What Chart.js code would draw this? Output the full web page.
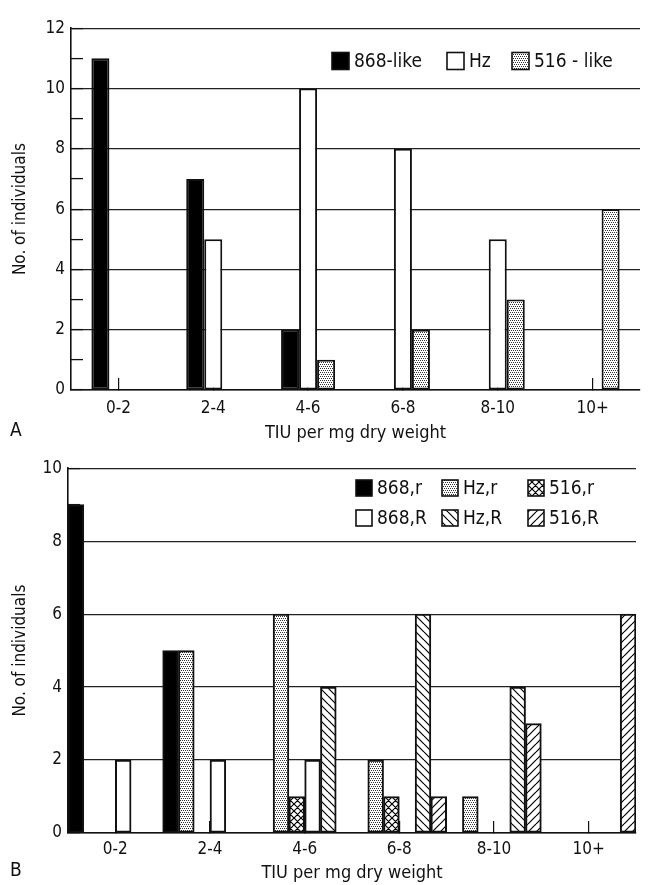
<!DOCTYPE html>
<html lang="en">
<head>
<meta charset="UTF-8" />
<title>TIU per mg dry weight</title>
<script src="https://cdn.jsdelivr.net/npm/chart.js"></script>
<style>
  body { margin: 0; width: 648px; height: 885px; position: relative; background: #fff; overflow: hidden;
         font-family: "DejaVu Sans Condensed", "DejaVu Sans", sans-serif; color: #111; }
  .panel { position: absolute; left: 0; width: 648px; height: 445px; }
  .tag { position: absolute; left: 10px; font-size: 19px; }
</style>
</head>
<body>
<div class="panel" style="top:0"><canvas id="chartA" width="648" height="445"></canvas></div>
<div class="panel" style="top:440px"><canvas id="chartB" width="648" height="445"></canvas></div>
<div class="tag" style="top:418px">A</div>
<div class="tag" style="top:858px">B</div>

<script>
// categories shared by both panels
const categories = ["0-2", "2-4", "4-6", "6-8", "8-10", "10+"];

// panel A
const like868 = [11, 7, 2, 0, 0, 0];
const hzA = [0, 5, 10, 8, 5, 0];
const like516 = [0, 0, 1, 2, 3, 6];
const yTicksA = [0, 2, 4, 6, 8, 10, 12];

// panel B
const r868 = [9, 5, 0, 0, 0, 0];
const rHz = [0, 5, 6, 2, 1, 0];
const r516 = [0, 0, 1, 1, 0, 0];
const R868 = [2, 2, 2, 0, 0, 0];
const RHz = [0, 0, 4, 6, 4, 0];
const R516 = [0, 0, 0, 1, 3, 6];
const yTicksB = [0, 2, 4, 6, 8, 10];

Chart.defaults.font.family = '"DejaVu Sans Condensed", "DejaVu Sans", sans-serif';
Chart.defaults.color = "#111";

const ink = "#111";

// fill patterns
function tile(size, draw) {
  const c = document.createElement("canvas");
  c.width = c.height = size;
  const g = c.getContext("2d");
  g.fillStyle = "#fff";
  g.fillRect(0, 0, size, size);
  draw(g, size);
  return g.createPattern(c, "repeat");
}
const dots = tile(4, (g) => {
  g.fillStyle = "#333";
  [[0, 0], [2, 0], [1, 2], [3, 2]].forEach(([x, y]) => g.fillRect(x, y, 1, 1));
});
function back(g, s) { // "\\\" lines
  for (let k = -1; k <= 1; k++) { g.moveTo(0, k * s); g.lineTo(s, s + k * s); }
}
function fwd(g, s) { // "///" lines
  for (let k = 0; k <= 2; k++) { g.moveTo(0, k * s); g.lineTo(s, k * s - s); }
}
function hatch(size, fns) {
  return tile(size, (g, s) => {
    g.strokeStyle = "#000";
    g.lineWidth = 1.2;
    g.beginPath();
    fns.forEach((f) => f(g, s));
    g.stroke();
  });
}
const backHatch = hatch(8, [back]);
const fwdHatch = hatch(8, [fwd]);
const crossHatch = hatch(7, [back, fwd]);

// legend drawn inside the plot
const boxLegend = {
  id: "boxLegend",
  afterDraw(chart, args, o) {
    const ctx = chart.ctx;
    ctx.save();
    ctx.font = o.font;
    ctx.textBaseline = "middle";
    chart.data.datasets.forEach((ds, i) => {
      const x = o.cols[i % o.cols.length];
      const y = o.rows[Math.floor(i / o.cols.length)];
      ctx.fillStyle = ds.backgroundColor;
      ctx.fillRect(x, y - o.box / 2, o.box, o.box);
      ctx.lineWidth = 1.6;
      ctx.strokeStyle = ink;
      ctx.strokeRect(x, y - o.box / 2, o.box, o.box);
      ctx.fillStyle = ink;
      ctx.fillText(ds.label, x + o.box + 5, y + 1);
    });
    ctx.restore();
  },
};

function yScale(max, labels, width) {
  return {
    min: 0,
    max: max,
    ticks: {
      stepSize: 1,
      autoSkip: false,
      padding: 18,
      font: { size: 17 },
      callback: (v) => (labels.includes(v) ? String(v) : ""),
    },
    grid: {
      color: (c) => (c.tick && c.tick.value % 2 === 0 ? "#222" : "rgba(0,0,0,0)"),
      lineWidth: 1.2,
      tickLength: -12,
      tickColor: ink,
      tickWidth: 1.3,
    },
    border: { color: ink, width: 1.6 },
    title: { display: true, text: "No. of individuals", font: { size: 17 }, padding: { top: 10, bottom: 0 } },
    afterFit: (s) => { s.width = width; },
  };
}

function xScale(pad, height) {
  return {
    ticks: { padding: pad, font: { size: 17 }, maxRotation: 0, autoSkip: false },
    grid: { offset: false, drawOnChartArea: false, tickLength: -12, tickColor: ink, lineWidth: 1.2 },
    border: { color: ink, width: 1.6 },
    title: { display: true, text: "TIU per mg dry weight", font: { size: 18 }, padding: { top: 0, bottom: 1 } },
    afterFit: (s) => { s.height = height; },
  };
}

function bar(label, data, fill) {
  return { label, data, backgroundColor: fill, borderColor: ink, borderWidth: 2, borderSkipped: false };
}

new Chart(document.getElementById("chartA"), {
  type: "bar",
  data: {
    labels: categories,
    datasets: [
      bar("868-like", like868, "#000"),
      bar("Hz", hzA, "#fff"),
      bar("516 - like", like516, dots),
    ],
  },
  options: {
    responsive: false,
    animation: false,
    datasets: { bar: { categoryPercentage: 0.57, barPercentage: 1 } },
    layout: { padding: { top: 21, right: 8, bottom: 0, left: 0 } },
    scales: { x: xScale(20, 55), y: yScale(12, yTicksA, 71) },
    plugins: {
      legend: { display: false },
      tooltip: { enabled: false },
      boxLegend: { cols: [332, 447, 512], rows: [61], box: 17, font: '19px "DejaVu Sans Condensed", "DejaVu Sans", sans-serif' },
    },
  },
  plugins: [boxLegend],
});

new Chart(document.getElementById("chartB"), {
  type: "bar",
  data: {
    labels: categories,
    datasets: [
      bar("868,r", r868, "#000"),
      bar("Hz,r", rHz, dots),
      bar("516,r", r516, crossHatch),
      bar("868,R", R868, "#fff"),
      bar("Hz,R", RHz, backHatch),
      bar("516,R", R516, fwdHatch),
    ],
  },
  options: {
    responsive: false,
    animation: false,
    datasets: { bar: { categoryPercentage: 1, barPercentage: 1 } },
    layout: { padding: { top: 22, right: 12, bottom: 0, left: 0 } },
    scales: { x: xScale(18, 52), y: yScale(10, yTicksB, 68) },
    plugins: {
      legend: { display: false },
      tooltip: { enabled: false },
      boxLegend: { cols: [356, 442, 528], rows: [48, 78], box: 16, font: '19px "DejaVu Sans Condensed", "DejaVu Sans", sans-serif' },
    },
  },
  plugins: [boxLegend],
});
</script>
</body>
</html>
